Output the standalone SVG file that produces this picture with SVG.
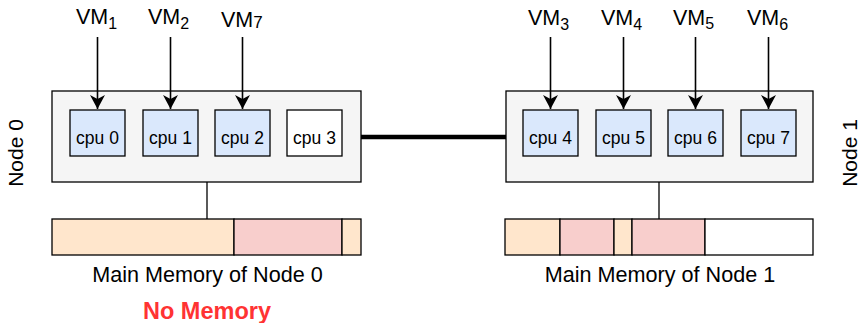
<svg xmlns="http://www.w3.org/2000/svg" width="861" height="323" viewBox="0 0 861 323">
  <style>
    text { font-family: "Liberation Sans", Arial, sans-serif; fill: #000; }
    .vm { font-size: 21.5px; }
    .sub { font-size: 16px; }
    .cpu-label { font-size: 17.5px; text-anchor: middle; }
    .mem-label { font-size: 21.6px; text-anchor: middle; }
    .node-label { font-size: 21px; text-anchor: middle; }
    .warn { font-size: 23.5px; font-weight: bold; fill: #ff3333; text-anchor: middle; }
    .node-box { fill: #f5f5f5; stroke: #000; stroke-width: 1.3; }
    .cpu-used { fill: #dae8fc; stroke: #000; stroke-width: 1.3; }
    .cpu-free { fill: #ffffff; stroke: #000; stroke-width: 1.3; }
    .seg { stroke: #000; stroke-width: 1.3; }
    .alloc { fill: #ffe6cc; }
    .vmmem { fill: #f8cecc; }
    .empty { fill: #ffffff; }
    .wire { stroke: #000; stroke-width: 1.3; fill: none; }
    .arrow { stroke: #000; stroke-width: 1.6; fill: none; marker-end: url(#head); }
    .link { stroke: #000; stroke-width: 4.5; fill: none; }
  </style>
  <defs>
    <!-- classic notched arrowhead, tip at the line end -->
    <marker id="head" markerUnits="userSpaceOnUse" markerWidth="16" markerHeight="18" viewBox="-15 -9 16 18" refX="0" refY="0" orient="auto" overflow="visible">
      <path d="M0,0 L-14,-7.5 L-10,0 L-14,7.5 Z" fill="#000"/>
    </marker>
  </defs>

  <!-- VM labels -->
  <g id="vms">
    <text class="vm" x="76" y="24">VM<tspan class="sub" dy="5">1</tspan></text>
    <text class="vm" x="148" y="24">VM<tspan class="sub" dy="5">2</tspan></text>
    <text class="vm" x="221" y="27">VM<tspan font-size="17px" dy="1">7</tspan></text>
    <text class="vm" x="528" y="24.5">VM<tspan class="sub" dy="5">3</tspan></text>
    <text class="vm" x="601" y="24.5">VM<tspan class="sub" dy="5">4</tspan></text>
    <text class="vm" x="673" y="24.5">VM<tspan class="sub" dy="4">5</tspan></text>
    <text class="vm" x="747" y="24.5">VM<tspan class="sub" dy="5">6</tspan></text>
  </g>

  <!-- NUMA node 0 -->
  <g id="node0">
    <rect class="node-box" x="52" y="91" width="309" height="91"/>
    <g id="cpu0"><rect class="cpu-used" x="70" y="110" width="55" height="46"/><text class="cpu-label" x="97.5" y="143.5">cpu 0</text></g>
    <g id="cpu1"><rect class="cpu-used" x="143" y="110" width="55" height="46"/><text class="cpu-label" x="170.5" y="143.5">cpu 1</text></g>
    <g id="cpu2"><rect class="cpu-used" x="215" y="110" width="55" height="46"/><text class="cpu-label" x="242.5" y="143.5">cpu 2</text></g>
    <g id="cpu3"><rect class="cpu-free" x="287" y="110" width="55" height="46"/><text class="cpu-label" x="314.5" y="143.5">cpu 3</text></g>
    <text class="node-label" transform="translate(23,153) rotate(-90)">Node 0</text>
  </g>

  <!-- NUMA node 1 -->
  <g id="node1">
    <rect class="node-box" x="506" y="91" width="307" height="91"/>
    <g id="cpu4"><rect class="cpu-used" x="523" y="110" width="55" height="46"/><text class="cpu-label" x="550.5" y="143.5">cpu 4</text></g>
    <g id="cpu5"><rect class="cpu-used" x="596" y="110" width="55" height="46"/><text class="cpu-label" x="623.5" y="143.5">cpu 5</text></g>
    <g id="cpu6"><rect class="cpu-used" x="668" y="110" width="55" height="46"/><text class="cpu-label" x="695.5" y="143.5">cpu 6</text></g>
    <g id="cpu7"><rect class="cpu-used" x="741" y="110" width="55" height="46"/><text class="cpu-label" x="768.5" y="143.5">cpu 7</text></g>
    <text class="node-label" transform="translate(857,153) rotate(-90)">Node 1</text>
  </g>

  <!-- main memory of node 0 -->
  <g id="mem0">
    <rect class="seg alloc" x="52" y="219" width="182" height="36"/>
    <rect class="seg vmmem" x="234" y="219" width="108" height="36"/>
    <rect class="seg alloc" x="342" y="219" width="19" height="36"/>
    <text class="mem-label" x="207.5" y="281.5">Main Memory of Node 0</text>
    <text class="warn" x="207" y="318.5">No Memory</text>
  </g>

  <!-- main memory of node 1 -->
  <g id="mem1">
    <rect class="seg alloc" x="505" y="219" width="55" height="36"/>
    <rect class="seg vmmem" x="560" y="219" width="54" height="36"/>
    <rect class="seg alloc" x="614" y="219" width="18" height="36"/>
    <rect class="seg vmmem" x="632" y="219" width="73" height="36"/>
    <rect class="seg empty" x="705" y="219" width="108" height="36"/>
    <text class="mem-label" x="660" y="281.5">Main Memory of Node 1</text>
  </g>

  <!-- interconnect, memory attachments and VM-to-cpu pinning arrows (drawn on top) -->
  <g id="connectors">
    <line class="link" x1="361" y1="137" x2="506" y2="137"/>
    <line class="wire" x1="207" y1="182" x2="207" y2="219"/>
    <line class="wire" x1="659" y1="182" x2="659" y2="219"/>
    <line class="arrow" x1="97.5" y1="37" x2="97.5" y2="109"/>
    <line class="arrow" x1="170.5" y1="37" x2="170.5" y2="109"/>
    <line class="arrow" x1="242.5" y1="37" x2="242.5" y2="109"/>
    <line class="arrow" x1="550.5" y1="37" x2="550.5" y2="109"/>
    <line class="arrow" x1="623.5" y1="37" x2="623.5" y2="109"/>
    <line class="arrow" x1="695.5" y1="37" x2="695.5" y2="109"/>
    <line class="arrow" x1="768.5" y1="37" x2="768.5" y2="109"/>
  </g>
</svg>
